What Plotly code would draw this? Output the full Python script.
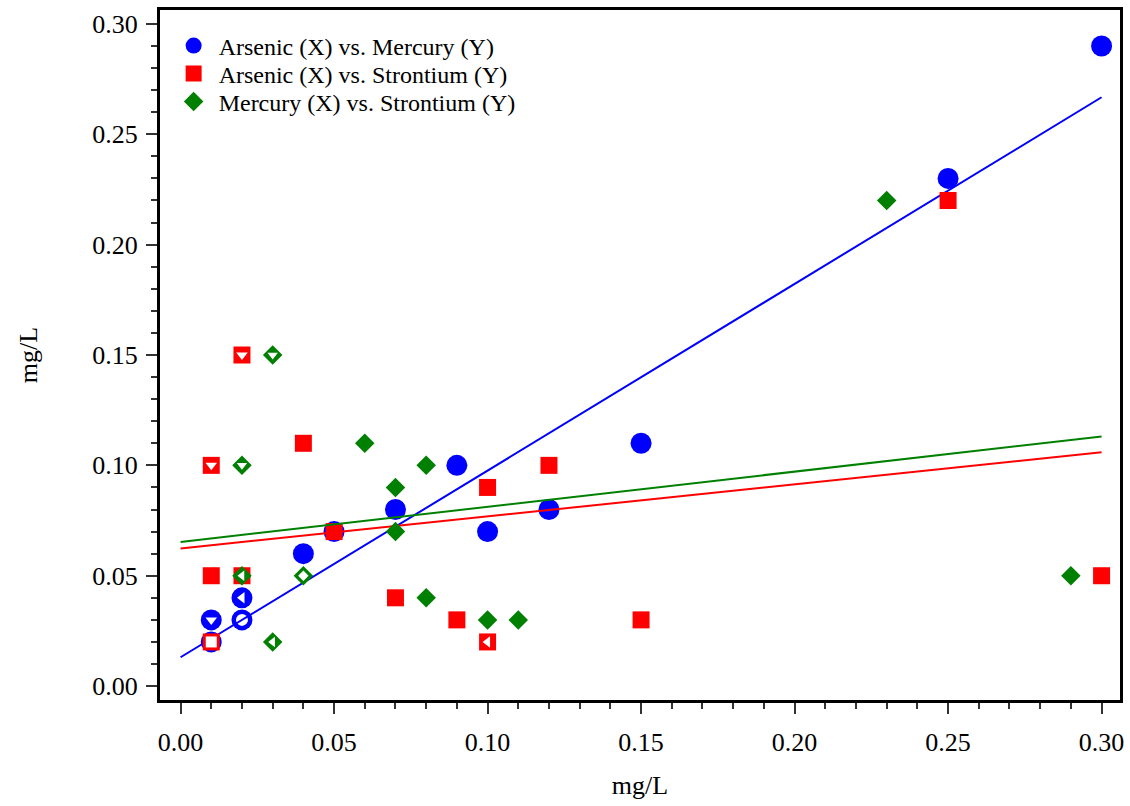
import numpy as np
import plotly.graph_objects as go

# Paired concentrations (mg/L). Flags mark non-detects:
#   "down" -> Y value below reporting limit, "left" -> X value below reporting limit,
#   "both" -> both values below reporting limit, "" -> detected.
as_hg_x = [0.30, 0.25, 0.15, 0.12, 0.10, 0.09, 0.07, 0.05, 0.04, 0.02, 0.02, 0.01, 0.01]
as_hg_y = [0.29, 0.23, 0.11, 0.08, 0.07, 0.10, 0.08, 0.07, 0.06, 0.04, 0.03, 0.03, 0.02]
as_hg_flag = ["", "", "", "", "", "", "", "", "", "left", "both", "down", "both"]

as_sr_x = [0.25, 0.30, 0.15, 0.12, 0.10, 0.10, 0.09, 0.07, 0.05, 0.04, 0.02, 0.01, 0.01, 0.02, 0.01]
as_sr_y = [0.22, 0.05, 0.03, 0.10, 0.09, 0.02, 0.03, 0.04, 0.07, 0.11, 0.15, 0.10, 0.05, 0.05, 0.02]
as_sr_flag = ["", "", "", "", "", "left", "", "", "", "", "down", "down", "", "", "both"]

hg_sr_x = [0.23, 0.29, 0.11, 0.10, 0.08, 0.08, 0.07, 0.07, 0.06, 0.04, 0.03, 0.03, 0.02, 0.02]
hg_sr_y = [0.22, 0.05, 0.03, 0.03, 0.04, 0.10, 0.09, 0.07, 0.11, 0.05, 0.15, 0.02, 0.10, 0.05]
hg_sr_flag = ["", "", "", "", "", "", "", "", "", "both", "down", "left", "down", "left"]

series_names = [
    "Arsenic (X) vs. Mercury (Y)",
    "Arsenic (X) vs. Strontium (Y)",
    "Mercury (X) vs. Strontium (Y)",
]
fit_span = [0.0, 0.30]

fig = go.Figure()


def add_series(name, legend_id, xs, ys, flags, color, symbol, size, inner):
    fig.add_trace(go.Scatter(
        x=xs, y=ys, mode="markers", name=name, legend=legend_id,
        marker=dict(symbol=symbol, size=size, color=color, line_width=0),
    ))
    # hollow centres for non-detect values
    for flag, sym in (("down", "triangle-down"), ("left", "triangle-left"), ("both", symbol)):
        idx = [i for i, f in enumerate(flags) if f == flag]
        if not idx:
            continue
        fig.add_trace(go.Scatter(
            x=[xs[i] for i in idx], y=[ys[i] for i in idx], mode="markers",
            marker=dict(symbol=sym, size=inner[flag], color="white", line_width=0),
            showlegend=False, hoverinfo="skip",
        ))
    slope, intercept = np.polyfit(xs, ys, 1)
    lx = np.array(fit_span)
    fig.add_trace(go.Scatter(
        x=lx, y=intercept + slope * lx, mode="lines",
        line=dict(color=color, width=2), showlegend=False, hoverinfo="skip",
    ))


add_series(series_names[0], "legend", as_hg_x, as_hg_y, as_hg_flag, "#0000ff", "circle", 21,
           {"down": 10, "left": 10, "both": 12})
add_series(series_names[1], "legend2", as_sr_x, as_sr_y, as_sr_flag, "#ff0000", "square", 17,
           {"down": 10, "left": 10, "both": 11})
add_series(series_names[2], "legend3", hg_sr_x, hg_sr_y, hg_sr_flag, "#008000", "diamond", 15,
           {"down": 9, "left": 9, "both": 8})

axis_style = dict(
    showline=True, linecolor="black", linewidth=3, mirror=True,
    showgrid=False, zeroline=False, automargin=False,
    ticks="outside", ticklen=11, tickwidth=1.5, tickcolor="#333333",
    tick0=0, dtick=0.05, tickformat=".2f",
    minor=dict(ticks="outside", ticklen=6, tickwidth=1.5, tickcolor="#333333",
               dtick=0.01, showgrid=False),
    title=dict(text="mg/L", font=dict(size=26)),
)

fig.update_xaxes(axis_style, range=[-0.0067, 0.306], ticklabelstandoff=6, title_standoff=20)
fig.update_yaxes(axis_style, range=[-0.0063, 0.3063], ticklabelstandoff=3, title_standoff=48)

legend_common = dict(x=0.009, xanchor="left", yanchor="middle", bgcolor="rgba(0,0,0,0)",
                     font=dict(size=24), itemwidth=40)
row_y = [46, 74, 102]   # legend row centres, in pixels from the top of the page
plot_top, plot_h = 10, 690


def paper_y(py):
    return 1 - (py - plot_top) / plot_h


fig.update_layout(
    width=1130, height=806,
    margin=dict(l=160, r=10, t=10, b=106, autoexpand=False),
    plot_bgcolor="white", paper_bgcolor="white",
    font=dict(family="Liberation Serif", size=26, color="black"),
    legend=dict(legend_common, y=paper_y(row_y[0])),
    legend2=dict(legend_common, y=paper_y(row_y[1])),
    legend3=dict(legend_common, y=paper_y(row_y[2])),
)

fig.write_html("out.html")
